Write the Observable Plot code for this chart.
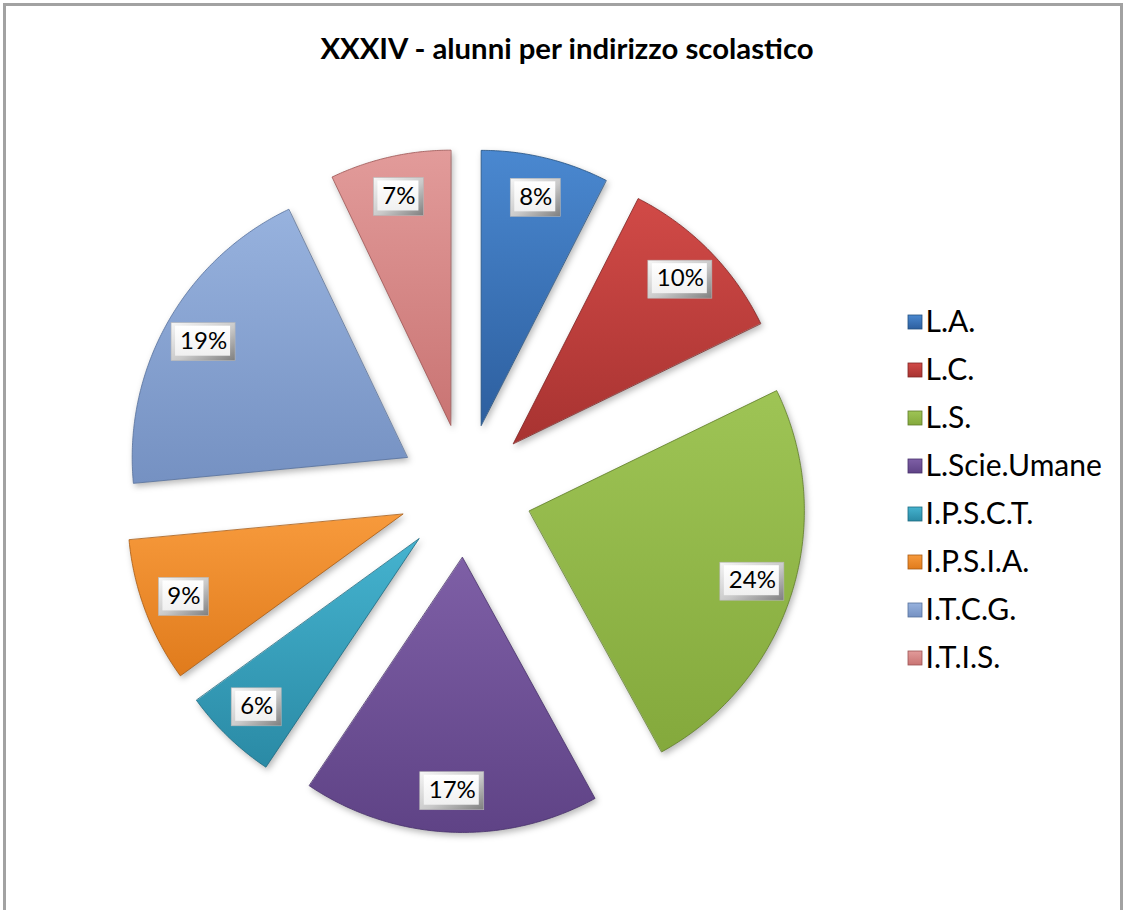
<!DOCTYPE html>
<html>
<head>
<meta charset="utf-8">
<script src="https://cdn.jsdelivr.net/npm/d3@7"></script>
<script src="https://cdn.jsdelivr.net/npm/@observablehq/plot@0.6"></script>
<style>
  html, body { margin: 0; padding: 0; background: #fff; }
  #wrap { position: relative; width: 1124px; height: 910px; overflow: hidden; background: #fff; }
  #frame { position: absolute; left: 3px; top: 3px; width: 1120px; height: 1000px; border: 3px solid #a2a2a2; box-sizing: border-box; }
  #title { position: absolute; left: 0; top: 33px; width: 1134px; text-align: center; font-family: Lato, "Open Sans", sans-serif; font-weight: bold; line-height: 1; color: #000; white-space: nowrap; }
  #chart { position: absolute; left: 0; top: 90px; }
</style>
</head>
<body>
<div id="wrap">
  <div id="frame"></div>
  <div id="title">XXXIV - alunni per indirizzo scolastico</div>
  <div id="chart"></div>
</div>
<script>
// ---- data ----
const categories = ["L.A.", "L.C.", "L.S.", "L.Scie.Umane", "I.P.S.C.T.", "I.P.S.I.A.", "I.T.C.G.", "I.T.I.S."];
const shares = [7.5, 10.3, 24.2, 17.4, 5.6, 8.5, 19.4, 7.1];
const labels = ["8%", "10%", "24%", "17%", "6%", "9%", "19%", "7%"];

// ---- palette (top, bottom, edge) ----
const palette = [
  ["#4a88d0", "#2d5f9f", "#24507f"],
  ["#d14a47", "#a83331", "#7f2624"],
  ["#9ec455", "#84a93c", "#5f7c2a"],
  ["#7e5fa6", "#5f4386", "#46306a"],
  ["#45b3cf", "#2a8aa5", "#1d6a80"],
  ["#f79a3c", "#e07b1c", "#a85a12"],
  ["#97b2de", "#7591c2", "#56709c"],
  ["#e29b9a", "#c97473", "#9c5453"]
];

// ---- layout ----
const W = 1124, H = 820;
const CX = 465, CY = 400, R = 275, EXPLODE = 67, LABEL_R = 301;
const LEG_X = 908, LEG_Y0 = 232, LEG_DY = 48, LEG_S = 14;

// title sizing to match the reference width
(function () {
  const c = document.createElement("canvas").getContext("2d");
  c.font = "bold 100px Lato";
  const w = c.measureText(document.getElementById("title").textContent).width;
  document.getElementById("title").style.fontSize = (100 * 495 / w).toFixed(2) + "px";
})();

const data = categories.map((name, i) => ({name, value: shares[i], label: labels[i], i}));
const arcs = d3.pie().sort(null).value(d => d.value)(data);

const slices = arcs.map(a => {
  const mid = (a.startAngle + a.endAngle) / 2;
  const ox = CX + EXPLODE * Math.sin(mid), oy = CY - EXPLODE * Math.cos(mid);
  const pts = [{x: ox, y: oy}];
  const n = Math.max(4, Math.ceil((a.endAngle - a.startAngle) / (Math.PI / 360)));
  for (let k = 0; k <= n; k++) {
    const t = a.startAngle + (a.endAngle - a.startAngle) * k / n;
    pts.push({x: ox + R * Math.sin(t), y: oy - R * Math.cos(t)});
  }
  return {d: a.data, pts,
    lx: CX + LABEL_R * Math.sin(mid), ly: CY - LABEL_R * Math.cos(mid)};
});

const boxes = slices.map(s => {
  const w = 22 + 14 * s.d.label.length, h = 38;
  return {label: s.d.label, x: s.lx, y: s.ly, x1: s.lx - w / 2, x2: s.lx + w / 2, y1: s.ly - h / 2, y2: s.ly + h / 2};
});

const legend = data.map((d, k) => ({name: d.name, i: d.i, y: LEG_Y0 + k * LEG_DY}));

const marks = [];
slices.forEach(s => {
  marks.push(Plot.line(s.pts, {
    x: "x", y: "y", curve: "linear-closed",
    fill: `url(#grad${s.d.i})`, stroke: palette[s.d.i][2], strokeWidth: 0.8
  }));
});
// label boxes (bevelled)
marks.push(Plot.rect(boxes, {x1: "x1", x2: "x2", y1: "y1", y2: "y2", fill: "url(#boxOuter)", stroke: "#b8b8b8", strokeWidth: 0.6}));
marks.push(Plot.rect(boxes, {x1: d => d.x1 + 4, x2: d => d.x2 - 5, y1: d => d.y1 + 3, y2: d => d.y2 - 5, fill: "url(#boxInner)"}));
marks.push(Plot.text(boxes, {x: "x", y: "y", text: "label", fontSize: 24, fontFamily: "Lato", fill: "#000", dy: -1}));
// legend
legend.forEach(l => {
  marks.push(Plot.rect([l], {x1: LEG_X, x2: LEG_X + LEG_S, y1: d => d.y - LEG_S / 2, y2: d => d.y + LEG_S / 2,
    fill: `url(#grad${l.i})`, stroke: palette[l.i][2], strokeWidth: 0.8}));
});
marks.push(Plot.text(legend, {x: LEG_X + LEG_S + 3, y: "y", text: "name", textAnchor: "start", fontSize: 30, fontFamily: "Lato", fill: "#000"}));

const chart = Plot.plot({
  width: W, height: H, margin: 0,
  x: {type: "linear", domain: [0, W], range: [0, W], axis: null},
  y: {type: "linear", domain: [0, H], range: [0, H], axis: null},
  style: {background: "transparent", overflow: "visible"},
  marks
});

// gradients
const svg = d3.select(chart);
const defs = svg.insert("defs", ":first-child");
palette.forEach((p, i) => {
  const g = defs.append("linearGradient").attr("id", `grad${i}`).attr("x1", 0).attr("y1", 0).attr("x2", 0).attr("y2", 1);
  g.append("stop").attr("offset", "0%").attr("stop-color", p[0]);
  g.append("stop").attr("offset", "100%").attr("stop-color", p[1]);
});
const go = defs.append("linearGradient").attr("id", "boxOuter").attr("x1", 0).attr("y1", 0).attr("x2", 1).attr("y2", 1);
go.append("stop").attr("offset", "0%").attr("stop-color", "#f6f6f6");
go.append("stop").attr("offset", "55%").attr("stop-color", "#c9c9c9");
go.append("stop").attr("offset", "100%").attr("stop-color", "#7e7e7e");
const gi = defs.append("linearGradient").attr("id", "boxInner").attr("x1", 0).attr("y1", 0).attr("x2", 0).attr("y2", 1);
gi.append("stop").attr("offset", "0%").attr("stop-color", "#ffffff");
gi.append("stop").attr("offset", "100%").attr("stop-color", "#f0f0f0");

svg.selectAll('g[aria-label="line"] path').style("filter", "drop-shadow(2px 3px 3px rgba(0,0,0,0.28))");

document.getElementById("chart").appendChild(chart);
</script>
</body>
</html>
